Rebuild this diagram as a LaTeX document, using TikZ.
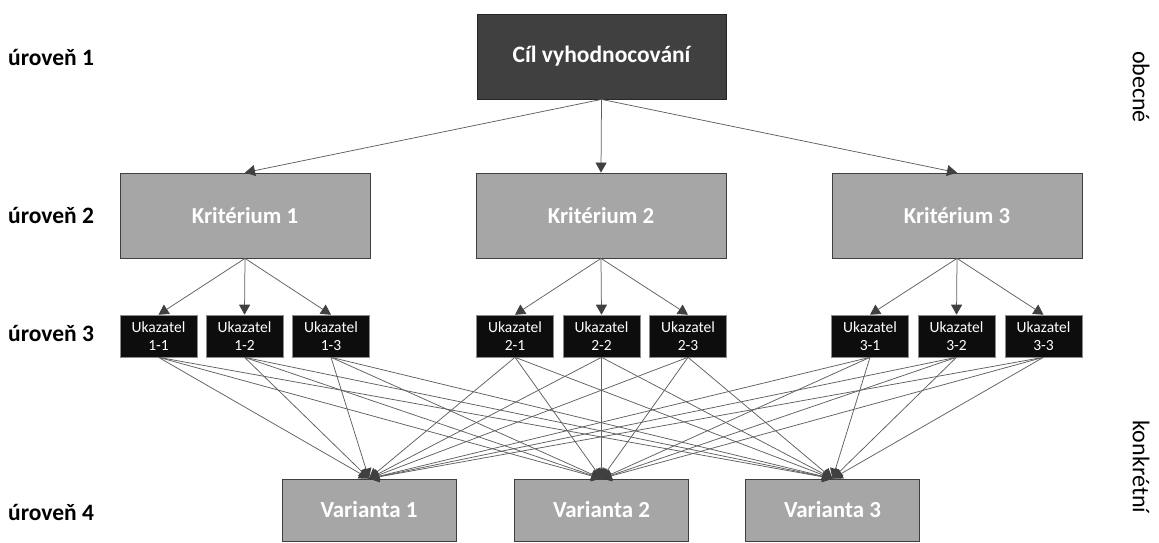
\documentclass[tikz,border=0pt]{standalone}
\usepackage{fontspec}
\setmainfont{Carlito}
\usetikzlibrary{arrows.meta}
\definecolor{goalfill}{HTML}{404040}
\definecolor{critfill}{HTML}{A6A6A6}
\definecolor{edgegray}{HTML}{5F5F5F}
\definecolor{tipgray}{HTML}{404040}
\definecolor{boxline}{HTML}{3F3F3F}
\begin{document}
\begin{tikzpicture}[x=1pt,y=-1pt,
  goal/.style={draw=black!85, fill=goalfill, text=white, line width=0.8pt,
    font=\bfseries\fontsize{23.5}{26}\selectfont, minimum width=249pt, minimum height=85pt, inner sep=0pt},
  crit/.style={draw=boxline, fill=critfill, text=white, line width=0.8pt,
    font=\bfseries\fontsize{22.8}{25}\selectfont, minimum width=250pt, minimum height=85pt, inner sep=0pt},
  ind/.style={draw=black!45, fill=black!95, text=white, line width=0.6pt, align=center,
    font=\fontsize{15.5}{18}\selectfont, minimum width=77pt, minimum height=42pt, inner sep=0pt},
  var/.style={draw=boxline, fill=critfill, text=white, line width=0.8pt,
    font=\bfseries\fontsize{23}{26}\selectfont, minimum width=174pt, minimum height=62pt, inner sep=0pt},
  lvl/.style={anchor=west, font=\bfseries\fontsize{23.5}{26}\selectfont, inner sep=0pt},
  side/.style={rotate=-90, font=\fontsize{24}{27}\selectfont, inner sep=0pt},
  link/.style={draw=edgegray, line width=0.75pt,
    -{Triangle[length=10pt,width=11pt,fill=tipgray,color=tipgray]}}
]
\useasboundingbox (0,0) rectangle (1159,543);

% level 1
\node[goal] (goal) at (601.5,56.5) {Cíl vyhodnocování};

% level 2
\node[crit] (k1) at (245,215.5) {Kritérium 1};
\node[crit] (k2) at (601,215.5) {Kritérium 2};
\node[crit] (k3) at (957,215.5) {Kritérium 3};

% level 3
\node[ind] (u11) at (158.5,336) {Ukazatel\\1-1};
\node[ind] (u12) at (244.5,336) {Ukazatel\\1-2};
\node[ind] (u13) at (331,336) {Ukazatel\\1-3};
\node[ind] (u21) at (515,336) {Ukazatel\\2-1};
\node[ind] (u22) at (601.5,336) {Ukazatel\\2-2};
\node[ind] (u23) at (688,336) {Ukazatel\\2-3};
\node[ind] (u31) at (870,336) {Ukazatel\\3-1};
\node[ind] (u32) at (956.5,336) {Ukazatel\\3-2};
\node[ind] (u33) at (1043.5,336) {Ukazatel\\3-3};

% level 4
\node[var] (v1) at (369,510) {Varianta 1};
\node[var] (v2) at (601.5,510) {Varianta 2};
\node[var] (v3) at (832.5,510) {Varianta 3};

% level captions
\node[lvl] (l1) at (8,57) {úroveň 1};
\node[lvl] (l2) at (8,215) {úroveň 2};
\node[lvl] (l3) at (8,333) {úroveň 3};
\node[lvl] (l4) at (8,512) {úroveň 4};

\node[side] (gen) at (1141,87) {obecné};
\node[side] (con) at (1141,467) {konkrétní};

% connectors
\foreach \k in {1,2,3}
  \draw[link] (goal.south) -- (k\k.north);
\foreach \k in {1,2,3}
  \foreach \j in {1,2,3}
    \draw[link] (k\k.south) -- (u\k\j.north);
\foreach \k in {1,2,3}
  \foreach \j in {1,2,3}
    \foreach \v in {1,2,3}
      \draw[link] (u\k\j.south) -- (v\v.north);
\end{tikzpicture}
\end{document}
